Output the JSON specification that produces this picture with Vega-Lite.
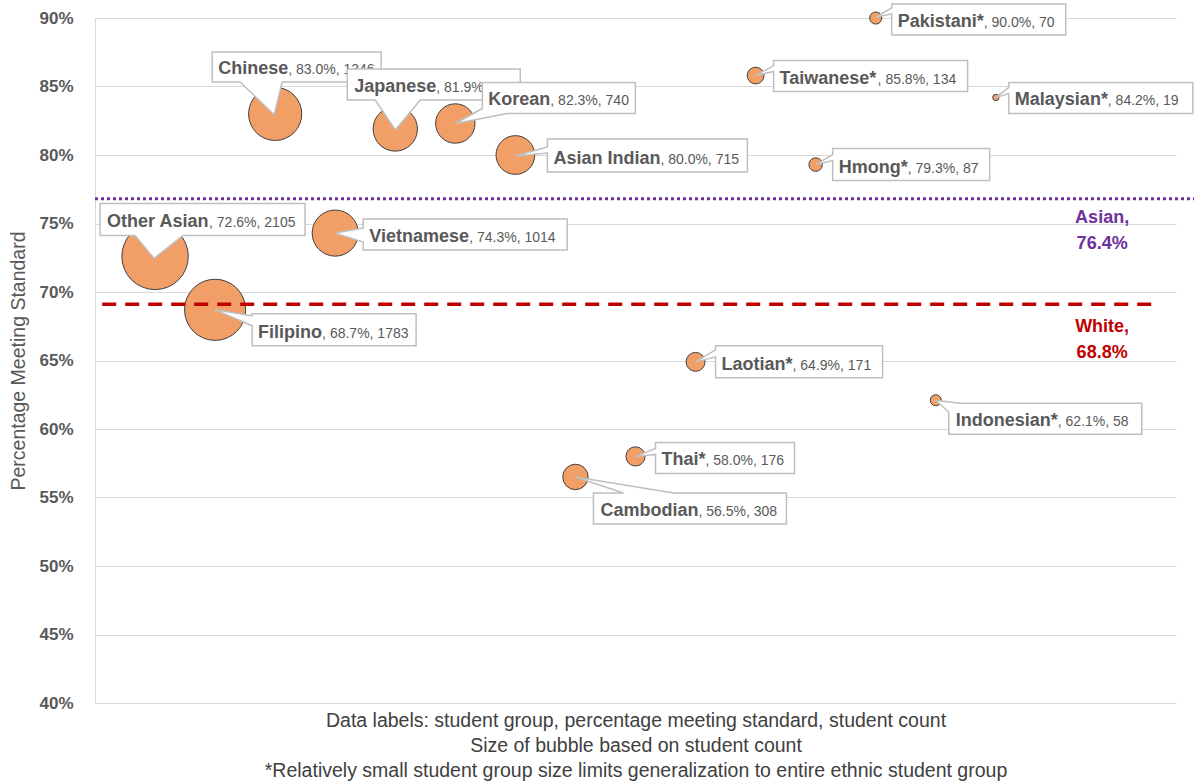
{
  "$schema": "https://vega.github.io/schema/vega-lite/v6.json",
  "width": 1081,
  "height": 685,
  "autosize": {"type": "none"},
  "padding": {"left": 95, "top": 18, "right": 18, "bottom": 79},
  "background": "white",
  "config": {"view": {"stroke": null}, "font": "Liberation Sans"},
  "data": {"values": [
      {"group": "Other Asian", "pos": 1, "pct": 72.6, "count": 2105},
      {"group": "Filipino", "pos": 2, "pct": 68.7, "count": 1783},
      {"group": "Chinese", "pos": 3, "pct": 83.0, "count": 1346},
      {"group": "Vietnamese", "pos": 4, "pct": 74.3, "count": 1014},
      {"group": "Japanese", "pos": 5, "pct": 81.9, "count": 936},
      {"group": "Korean", "pos": 6, "pct": 82.3, "count": 740},
      {"group": "Asian Indian", "pos": 7, "pct": 80.0, "count": 715},
      {"group": "Cambodian", "pos": 8, "pct": 56.5, "count": 308},
      {"group": "Thai*", "pos": 9, "pct": 58.0, "count": 176},
      {"group": "Laotian*", "pos": 10, "pct": 64.9, "count": 171},
      {"group": "Taiwanese*", "pos": 11, "pct": 85.8, "count": 134},
      {"group": "Hmong*", "pos": 12, "pct": 79.3, "count": 87},
      {"group": "Pakistani*", "pos": 13, "pct": 90.0, "count": 70},
      {"group": "Indonesian*", "pos": 14, "pct": 62.1, "count": 58},
      {"group": "Malaysian*", "pos": 15, "pct": 84.2, "count": 19}
  ]},
  "encoding": {
    "x": {
      "field": "pos", "type": "quantitative",
      "scale": {"domain": [0, 18], "nice": false, "zero": false},
      "axis": {
        "title": ["Data labels: student group, percentage meeting standard, student count", "Size of bubble based on student count", "*Relatively small student group size limits generalization to entire ethnic student group"],
        "grid": false, "domain": false, "ticks": false, "labels": false,
        "titleFont": "Liberation Sans", "titleFontSize": 19.5, "titleFontWeight": "normal", "titleColor": "#404040",
        "titleLineHeight": 25, "titlePadding": 8
      }
    },
    "y": {
      "field": "pct", "type": "quantitative",
      "scale": {"domain": [40, 90], "nice": false, "zero": false},
      "axis": {
        "values": [40, 45, 50, 55, 60, 65, 70, 75, 80, 85, 90],
        "labelExpr": "datum.value + '%'",
        "labelFont": "Liberation Sans", "labelFontSize": 17, "labelFontWeight": "bold", "labelColor": "#595959",
        "ticks": false, "labelPadding": 22,
        "domain": true, "domainColor": "#D9D9D9", "gridColor": "#D9D9D9",
        "title": "Percentage Meeting Standard",
        "titleFont": "Liberation Sans", "titleFontSize": 19.5, "titleFontWeight": "normal", "titleColor": "#595959",
        "titlePadding": 10
      }
    }
  },
  "layer": [
    {
      "mark": {"type": "circle", "fill": "#F19F66", "stroke": "#404040", "strokeWidth": 1, "opacity": 1},
      "encoding": {
        "size": {"field": "count", "type": "quantitative", "scale": {"domain": [0, 2105], "range": [0, 4418]}, "legend": null}
      }
    },
    {
      "data": {"values": [{"line": "Asian", "pct": 76.8, "from": 0, "to": 18.3}]},
      "mark": {"type": "rule", "stroke": "#7030A0", "strokeWidth": 3, "strokeDash": [3, 3]},
      "encoding": {"x": {"field": "from", "type": "quantitative"}, "x2": {"field": "to"}, "y": {"field": "pct", "type": "quantitative"}}
    },
    {
      "data": {"values": [{"line": "White", "pct": 69.1, "from": 0.12, "to": 17.72}]},
      "mark": {"type": "rule", "stroke": "#C00000", "strokeWidth": 3.5, "strokeDash": [14, 9]},
      "encoding": {"x": {"field": "from", "type": "quantitative"}, "x2": {"field": "to"}, "y": {"field": "pct", "type": "quantitative"}}
    },
    {
      "data": {"values": [{"line": "Asian", "pct": 76.8, "at": 16.77, "label": "Asian,\n76.4%"}]},
      "mark": {"type": "text", "align": "center", "baseline": "top", "dy": 10, "lineBreak": "\n", "lineHeight": 26, "fontSize": 18, "fontWeight": "bold", "fill": "#7030A0"},
      "encoding": {"x": {"field": "at", "type": "quantitative"}, "y": {"field": "pct", "type": "quantitative"}, "text": {"field": "label"}}
    },
    {
      "data": {"values": [{"line": "White", "pct": 69.1, "at": 16.77, "label": "White,\n68.8%"}]},
      "mark": {"type": "text", "align": "center", "baseline": "top", "dy": 14, "lineBreak": "\n", "lineHeight": 26, "fontSize": 18, "fontWeight": "bold", "fill": "#C00000"},
      "encoding": {"x": {"field": "at", "type": "quantitative"}, "y": {"field": "pct", "type": "quantitative"}, "text": {"field": "label"}}
    },
    {
      "transform": [{"filter": "datum.group === 'Other Asian'"}],
      "layer": [
        {"mark": {"type": "point", "shape": "M-55,-53H150V-21H28L-1,2L-20,-21H-55Z", "size": 4, "filled": true, "fill": "#FFFFFF", "stroke": "#BFBFBF", "strokeWidth": 1.5, "opacity": 1}},
        {"mark": {"type": "text", "align": "left", "baseline": "alphabetic", "dx": -48, "dy": -29, "fontSize": 18, "fontWeight": "bold", "fill": "#595959"}, "encoding": {"text": {"field": "group"}}},
        {"mark": {"type": "text", "align": "left", "baseline": "alphabetic", "dx": 54, "dy": -29, "fontSize": 14, "fill": "#595959"}, "encoding": {"text": {"value": {"expr": "', ' + format(datum.pct, '.1f') + '%, ' + datum.count"}}}}
      ]
    },
    {
      "transform": [{"filter": "datum.group === 'Filipino'"}],
      "layer": [
        {"mark": {"type": "point", "shape": "M37,4H201V36H37V16L0,0L37,6Z", "size": 4, "filled": true, "fill": "#FFFFFF", "stroke": "#BFBFBF", "strokeWidth": 1.5, "opacity": 1}},
        {"mark": {"type": "text", "align": "left", "baseline": "alphabetic", "dx": 43, "dy": 28, "fontSize": 18, "fontWeight": "bold", "fill": "#595959"}, "encoding": {"text": {"field": "group"}}},
        {"mark": {"type": "text", "align": "left", "baseline": "alphabetic", "dx": 107, "dy": 28, "fontSize": 14, "fill": "#595959"}, "encoding": {"text": {"value": {"expr": "', ' + format(datum.pct, '.1f') + '%, ' + datum.count"}}}}
      ]
    },
    {
      "transform": [{"filter": "datum.group === 'Chinese'"}],
      "layer": [
        {"mark": {"type": "point", "shape": "M-63,-62H106V-32H7L-1,1L-35,-32H-63Z", "size": 4, "filled": true, "fill": "#FFFFFF", "stroke": "#BFBFBF", "strokeWidth": 1.5, "opacity": 1}},
        {"mark": {"type": "text", "align": "left", "baseline": "alphabetic", "dx": -57, "dy": -40, "fontSize": 18, "fontWeight": "bold", "fill": "#595959"}, "encoding": {"text": {"field": "group"}}},
        {"mark": {"type": "text", "align": "left", "baseline": "alphabetic", "dx": 13, "dy": -40, "fontSize": 14, "fill": "#595959"}, "encoding": {"text": {"value": {"expr": "', ' + format(datum.pct, '.1f') + '%, ' + datum.count"}}}}
      ]
    },
    {
      "transform": [{"filter": "datum.group === 'Vietnamese'"}],
      "layer": [
        {"mark": {"type": "point", "shape": "M28,-14H232V17H28V9L0,0L28,-5Z", "size": 4, "filled": true, "fill": "#FFFFFF", "stroke": "#BFBFBF", "strokeWidth": 1.5, "opacity": 1}},
        {"mark": {"type": "text", "align": "left", "baseline": "alphabetic", "dx": 34, "dy": 9, "fontSize": 18, "fontWeight": "bold", "fill": "#595959"}, "encoding": {"text": {"field": "group"}}},
        {"mark": {"type": "text", "align": "left", "baseline": "alphabetic", "dx": 134, "dy": 9, "fontSize": 14, "fill": "#595959"}, "encoding": {"text": {"value": {"expr": "', ' + format(datum.pct, '.1f') + '%, ' + datum.count"}}}}
      ]
    },
    {
      "transform": [{"filter": "datum.group === 'Japanese'"}],
      "layer": [
        {"mark": {"type": "point", "shape": "M-48,-60H125V-29H25L0,1L-20,-29H-48Z", "size": 4, "filled": true, "fill": "#FFFFFF", "stroke": "#BFBFBF", "strokeWidth": 1.5, "opacity": 1}},
        {"mark": {"type": "text", "align": "left", "baseline": "alphabetic", "dx": -41, "dy": -37, "fontSize": 18, "fontWeight": "bold", "fill": "#595959"}, "encoding": {"text": {"field": "group"}}},
        {"mark": {"type": "text", "align": "left", "baseline": "alphabetic", "dx": 41, "dy": -37, "fontSize": 14, "fill": "#595959"}, "encoding": {"text": {"value": {"expr": "', ' + format(datum.pct, '.1f') + '%, ' + datum.count"}}}}
      ]
    },
    {
      "transform": [{"filter": "datum.group === 'Korean'"}],
      "layer": [
        {"mark": {"type": "point", "shape": "M27,-41H180V-10H52L0,0L27,-15Z", "size": 4, "filled": true, "fill": "#FFFFFF", "stroke": "#BFBFBF", "strokeWidth": 1.5, "opacity": 1}},
        {"mark": {"type": "text", "align": "left", "baseline": "alphabetic", "dx": 33, "dy": -18, "fontSize": 18, "fontWeight": "bold", "fill": "#595959"}, "encoding": {"text": {"field": "group"}}},
        {"mark": {"type": "text", "align": "left", "baseline": "alphabetic", "dx": 95, "dy": -18, "fontSize": 14, "fill": "#595959"}, "encoding": {"text": {"value": {"expr": "', ' + format(datum.pct, '.1f') + '%, ' + datum.count"}}}}
      ]
    },
    {
      "transform": [{"filter": "datum.group === 'Asian Indian'"}],
      "layer": [
        {"mark": {"type": "point", "shape": "M32,-16H232V17H32V-2L0,1L32,-8Z", "size": 4, "filled": true, "fill": "#FFFFFF", "stroke": "#BFBFBF", "strokeWidth": 1.5, "opacity": 1}},
        {"mark": {"type": "text", "align": "left", "baseline": "alphabetic", "dx": 38, "dy": 9, "fontSize": 18, "fontWeight": "bold", "fill": "#595959"}, "encoding": {"text": {"field": "group"}}},
        {"mark": {"type": "text", "align": "left", "baseline": "alphabetic", "dx": 145, "dy": 9, "fontSize": 14, "fill": "#595959"}, "encoding": {"text": {"value": {"expr": "', ' + format(datum.pct, '.1f') + '%, ' + datum.count"}}}}
      ]
    },
    {
      "transform": [{"filter": "datum.group === 'Cambodian'"}],
      "layer": [
        {"mark": {"type": "point", "shape": "M18,16H48L0,0L98,16H211V47H18Z", "size": 4, "filled": true, "fill": "#FFFFFF", "stroke": "#BFBFBF", "strokeWidth": 1.5, "opacity": 1}},
        {"mark": {"type": "text", "align": "left", "baseline": "alphabetic", "dx": 25, "dy": 39, "fontSize": 18, "fontWeight": "bold", "fill": "#595959"}, "encoding": {"text": {"field": "group"}}},
        {"mark": {"type": "text", "align": "left", "baseline": "alphabetic", "dx": 123, "dy": 39, "fontSize": 14, "fill": "#595959"}, "encoding": {"text": {"value": {"expr": "', ' + format(datum.pct, '.1f') + '%, ' + datum.count"}}}}
      ]
    },
    {
      "transform": [{"filter": "datum.group === 'Thai*'"}],
      "layer": [
        {"mark": {"type": "point", "shape": "M20,-14H159V17H20V-2L0,0L20,-8Z", "size": 4, "filled": true, "fill": "#FFFFFF", "stroke": "#BFBFBF", "strokeWidth": 1.5, "opacity": 1}},
        {"mark": {"type": "text", "align": "left", "baseline": "alphabetic", "dx": 26, "dy": 9, "fontSize": 18, "fontWeight": "bold", "fill": "#595959"}, "encoding": {"text": {"field": "group"}}},
        {"mark": {"type": "text", "align": "left", "baseline": "alphabetic", "dx": 70, "dy": 9, "fontSize": 14, "fill": "#595959"}, "encoding": {"text": {"value": {"expr": "', ' + format(datum.pct, '.1f') + '%, ' + datum.count"}}}}
      ]
    },
    {
      "transform": [{"filter": "datum.group === 'Laotian*'"}],
      "layer": [
        {"mark": {"type": "point", "shape": "M20,-16H187V16H20V-5L0,0L20,-12Z", "size": 4, "filled": true, "fill": "#FFFFFF", "stroke": "#BFBFBF", "strokeWidth": 1.5, "opacity": 1}},
        {"mark": {"type": "text", "align": "left", "baseline": "alphabetic", "dx": 26, "dy": 8, "fontSize": 18, "fontWeight": "bold", "fill": "#595959"}, "encoding": {"text": {"field": "group"}}},
        {"mark": {"type": "text", "align": "left", "baseline": "alphabetic", "dx": 97, "dy": 8, "fontSize": 14, "fill": "#595959"}, "encoding": {"text": {"value": {"expr": "', ' + format(datum.pct, '.1f') + '%, ' + datum.count"}}}}
      ]
    },
    {
      "transform": [{"filter": "datum.group === 'Taiwanese*'"}],
      "layer": [
        {"mark": {"type": "point", "shape": "M18,-15H212V16H18V-4L0,0L18,-10Z", "size": 4, "filled": true, "fill": "#FFFFFF", "stroke": "#BFBFBF", "strokeWidth": 1.5, "opacity": 1}},
        {"mark": {"type": "text", "align": "left", "baseline": "alphabetic", "dx": 24, "dy": 8, "fontSize": 18, "fontWeight": "bold", "fill": "#595959"}, "encoding": {"text": {"field": "group"}}},
        {"mark": {"type": "text", "align": "left", "baseline": "alphabetic", "dx": 122, "dy": 8, "fontSize": 14, "fill": "#595959"}, "encoding": {"text": {"value": {"expr": "', ' + format(datum.pct, '.1f') + '%, ' + datum.count"}}}}
      ]
    },
    {
      "transform": [{"filter": "datum.group === 'Hmong*'"}],
      "layer": [
        {"mark": {"type": "point", "shape": "M17,-16H174V16H17V-4L0,0L17,-10Z", "size": 4, "filled": true, "fill": "#FFFFFF", "stroke": "#BFBFBF", "strokeWidth": 1.5, "opacity": 1}},
        {"mark": {"type": "text", "align": "left", "baseline": "alphabetic", "dx": 23, "dy": 8, "fontSize": 18, "fontWeight": "bold", "fill": "#595959"}, "encoding": {"text": {"field": "group"}}},
        {"mark": {"type": "text", "align": "left", "baseline": "alphabetic", "dx": 92, "dy": 8, "fontSize": 14, "fill": "#595959"}, "encoding": {"text": {"value": {"expr": "', ' + format(datum.pct, '.1f') + '%, ' + datum.count"}}}}
      ]
    },
    {
      "transform": [{"filter": "datum.group === 'Pakistani*'"}],
      "layer": [
        {"mark": {"type": "point", "shape": "M16,-14H190V17H16V-4L0,-1L16,-10Z", "size": 4, "filled": true, "fill": "#FFFFFF", "stroke": "#BFBFBF", "strokeWidth": 1.5, "opacity": 1}},
        {"mark": {"type": "text", "align": "left", "baseline": "alphabetic", "dx": 22, "dy": 9, "fontSize": 18, "fontWeight": "bold", "fill": "#595959"}, "encoding": {"text": {"field": "group"}}},
        {"mark": {"type": "text", "align": "left", "baseline": "alphabetic", "dx": 108, "dy": 9, "fontSize": 14, "fill": "#595959"}, "encoding": {"text": {"value": {"expr": "', ' + format(datum.pct, '.1f') + '%, ' + datum.count"}}}}
      ]
    },
    {
      "transform": [{"filter": "datum.group === 'Indonesian*'"}],
      "layer": [
        {"mark": {"type": "point", "shape": "M24,3H206V34H13V12L0,0Z", "size": 4, "filled": true, "fill": "#FFFFFF", "stroke": "#BFBFBF", "strokeWidth": 1.5, "opacity": 1}},
        {"mark": {"type": "text", "align": "left", "baseline": "alphabetic", "dx": 20, "dy": 26, "fontSize": 18, "fontWeight": "bold", "fill": "#595959"}, "encoding": {"text": {"field": "group"}}},
        {"mark": {"type": "text", "align": "left", "baseline": "alphabetic", "dx": 122, "dy": 26, "fontSize": 14, "fill": "#595959"}, "encoding": {"text": {"value": {"expr": "', ' + format(datum.pct, '.1f') + '%, ' + datum.count"}}}}
      ]
    },
    {
      "transform": [{"filter": "datum.group === 'Malaysian*'"}],
      "layer": [
        {"mark": {"type": "point", "shape": "M13,-15H197V16H13V-4L0,0L13,-10Z", "size": 4, "filled": true, "fill": "#FFFFFF", "stroke": "#BFBFBF", "strokeWidth": 1.5, "opacity": 1}},
        {"mark": {"type": "text", "align": "left", "baseline": "alphabetic", "dx": 19, "dy": 8, "fontSize": 18, "fontWeight": "bold", "fill": "#595959"}, "encoding": {"text": {"field": "group"}}},
        {"mark": {"type": "text", "align": "left", "baseline": "alphabetic", "dx": 112, "dy": 8, "fontSize": 14, "fill": "#595959"}, "encoding": {"text": {"value": {"expr": "', ' + format(datum.pct, '.1f') + '%, ' + datum.count"}}}}
      ]
    }
  ]
}
